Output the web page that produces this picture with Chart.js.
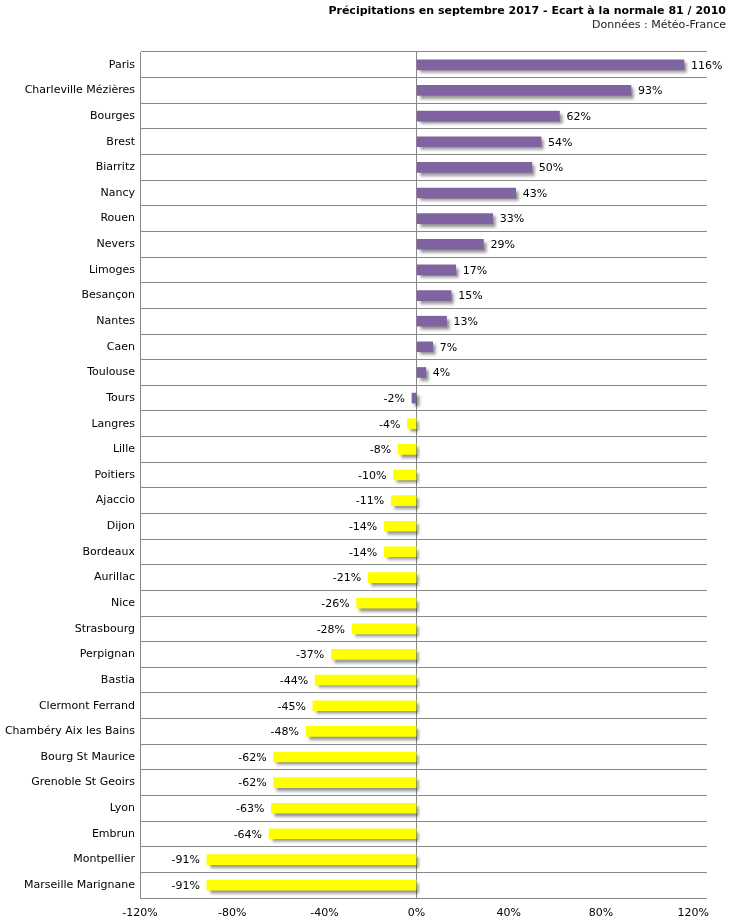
<!DOCTYPE html>
<html>
<head>
<meta charset="utf-8">
<script src="https://cdn.jsdelivr.net/npm/chart.js@4.4.1/dist/chart.umd.min.js"></script>
<style>
  html, body { margin: 0; padding: 0; background: #fff; }
  #wrap { width: 730px; height: 922px; }
</style>
</head>
<body>
<div id="wrap"><canvas id="myChart"></canvas></div>
<script>
const stations = ['Paris', 'Charleville Mézières', 'Bourges', 'Brest', 'Biarritz', 'Nancy', 'Rouen', 'Nevers',
    'Limoges', 'Besançon', 'Nantes', 'Caen', 'Toulouse', 'Tours', 'Langres', 'Lille', 'Poitiers', 'Ajaccio',
    'Dijon', 'Bordeaux', 'Aurillac', 'Nice', 'Strasbourg', 'Perpignan', 'Bastia', 'Clermont Ferrand',
    'Chambéry Aix les Bains', 'Bourg St Maurice', 'Grenoble St Geoirs', 'Lyon', 'Embrun', 'Montpellier',
    'Marseille Marignane'];
const ecart = [116, 93, 62, 54, 50, 43, 33, 29, 17, 15, 13, 7, 4, -2, -4, -8, -10, -11, -14, -14, -21, -26,
    -28, -37, -44, -45, -48, -62, -62, -63, -64, -91, -91];
const xTicks = [-120, -80, -40, 0, 40, 80, 120];

const titleText = 'Précipitations en septembre 2017 - Ecart à la normale 81 / 2010';
const subtitleText = 'Données : Météo-France';

const purple = '#8064A2';
const yellow = '#FFFF00';
// the first 14 stations are drawn in purple, the rest in yellow
const colors = ecart.map((v, i) => i < 14 ? purple : yellow);

const FONT = '"DejaVu Sans", Verdana, sans-serif';

// title block sits at the far right of the canvas, past the plot area
const headerPlugin = {
    id: 'header',
    afterDraw(chart) {
        const ctx = chart.ctx;
        ctx.save();
        ctx.textAlign = 'right';
        ctx.textBaseline = 'middle';
        ctx.fillStyle = '#000';
        ctx.font = 'bold 11px ' + FONT;
        ctx.fillText(titleText, chart.width - 4, 11);
        ctx.fillStyle = '#222';
        ctx.font = '11px ' + FONT;
        ctx.fillText(subtitleText, chart.width - 4, 25);
        ctx.restore();
    }
};

const shadowPlugin = {
    id: 'barShadow',
    beforeDatasetsDraw(chart) {
        const ctx = chart.ctx;
        ctx.save();
        ctx.shadowColor = 'rgba(0,0,0,0.45)';
        ctx.shadowOffsetX = 3;
        ctx.shadowOffsetY = 3;
        ctx.shadowBlur = 3;
    },
    afterDatasetsDraw(chart) {
        chart.ctx.restore();
    }
};

const valueLabels = {
    id: 'valueLabels',
    afterDatasetsDraw(chart) {
        const ctx = chart.ctx;
        const meta = chart.getDatasetMeta(0);
        ctx.save();
        ctx.font = '11px ' + FONT;
        ctx.fillStyle = '#000';
        ctx.textBaseline = 'middle';
        meta.data.forEach((bar, i) => {
            const v = ecart[i];
            if (v >= 0) {
                ctx.textAlign = 'left';
                ctx.fillText(v + '%', bar.x + 7, bar.y + 1);
            } else {
                ctx.textAlign = 'right';
                ctx.fillText(v + '%', bar.x - 7, bar.y + 1);
            }
        });
        ctx.restore();
    }
};

document.addEventListener('DOMContentLoaded', function () {
    const ctx = document.getElementById('myChart').getContext('2d');
    new Chart(ctx, {
        type: 'bar',
        data: {
            labels: stations,
            datasets: [{
                data: ecart,
                backgroundColor: colors,
                barThickness: 10,
                borderWidth: 0
            }]
        },
        options: {
            indexAxis: 'y',
            responsive: true,
            maintainAspectRatio: false,
            animation: false,
            layout: { padding: { left: 0, right: 23, top: 52, bottom: 0 } },
            plugins: {
                legend: { display: false },
                tooltip: { enabled: false }
            },
            scales: {
                x: {
                    min: -120,
                    max: 126,
                    afterBuildTicks(scale) {
                        scale.ticks = xTicks.map(v => ({ value: v }));
                    },
                    afterFit(scale) { scale.height = 24; },
                    grid: {
                        color: c => c.tick && c.tick.value === 0 ? '#888' : 'transparent',
                        drawTicks: false,
                        lineWidth: 1
                    },
                    border: { display: false },
                    ticks: {
                        color: '#000',
                        font: { family: FONT, size: 11 },
                        padding: 9,
                        maxRotation: 0,
                        callback: v => v + '%'
                    }
                },
                y: {
                    afterFit(scale) { scale.width = 140; },
                    grid: {
                        offset: true,
                        color: '#888',
                        drawTicks: false
                    },
                    border: { display: true, color: '#888' },
                    ticks: {
                        color: '#000',
                        font: { family: FONT, size: 11 },
                        padding: 5,
                        autoSkip: false
                    }
                }
            }
        },
        plugins: [shadowPlugin, valueLabels, headerPlugin]
    });
});
</script>
</body>
</html>
